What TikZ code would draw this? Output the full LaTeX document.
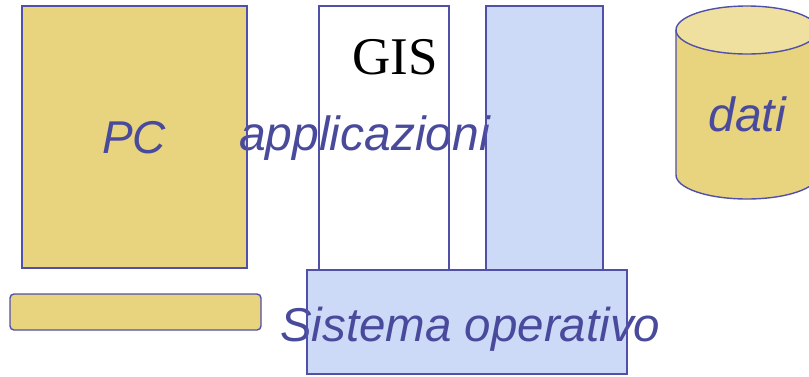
\documentclass[tikz,border=0pt]{standalone}
\usepackage{fontspec}
\setmainfont{Liberation Serif}
\setsansfont{Liberation Sans}
\definecolor{gold}{HTML}{E8D47E}
\definecolor{goldtop}{HTML}{F0E0A0}
\definecolor{lblue}{HTML}{CCD9F7}
\definecolor{edge}{HTML}{5050A8}
\definecolor{txt}{HTML}{4A4A9C}
\tikzset{
  box/.style={draw=edge, line width=1.4pt, anchor=north west, inner sep=0pt, outer sep=0pt},
  lbl/.style={font=\sffamily\itshape\fontsize{46}{50}\selectfont, text=txt, inner sep=0pt},
  rim/.style={draw=edge, line width=1.4pt},
}
\begin{document}
\begin{tikzpicture}[x=1pt,y=-1pt]
\useasboundingbox (0,0) rectangle (809,376);
% PC
\node[box, fill=gold, minimum width=225pt, minimum height=262pt] (pc) at (22,6) {};
\node[box, fill=gold, rounded corners=4pt, minimum width=251pt, minimum height=36pt] (kb) at (10,294) {};
% GIS and applications
\node[box, fill=white, minimum width=130pt, minimum height=264pt] (gis) at (319,6) {};
\node[box, fill=lblue, minimum width=117pt, minimum height=264pt] (app) at (486,6) {};
% OS
\node[box, fill=lblue, minimum width=320pt, minimum height=104pt] (os) at (307,270) {};
% cylinder
\begin{scope}
\clip (0,0) rectangle (809,376);
\fill[gold] (676,30) -- (676,175) arc[start angle=180, end angle=0, x radius=71, y radius=24] -- (818,30) -- cycle;
\draw[rim] (676,30) -- (676,175) arc[start angle=180, end angle=0, x radius=71, y radius=24] -- (818,30);
\draw[rim, fill=goldtop] (747,30) ellipse[x radius=71, y radius=24];
\end{scope}
% texts
\node[lbl, anchor=base] (pct) at (134,153) {PC};
\node[lbl, font=\sffamily\itshape\fontsize{48}{52}\selectfont, anchor=base west] (appt) at (239,150) {applicazioni};
\node[lbl, font=\sffamily\itshape\fontsize{47.5}{52}\selectfont, anchor=base west] (ost) at (280,341) {Sistema operativo};
\node[lbl, font=\sffamily\itshape\fontsize{48}{52}\selectfont, anchor=base] (dt) at (747,131) {dati};
\node[font=\fontsize{53}{56}\selectfont, inner sep=0pt, anchor=base] (gist) at (395,74) {GIS};
% box borders drawn over the texts, as in the reference
\draw[rim] (pc.north west) rectangle (pc.south east);
\draw[rim] (gis.north west) rectangle (gis.south east);
\draw[rim] (app.north west) rectangle (app.south east);
\draw[rim] (os.north west) rectangle (os.south east);
\end{tikzpicture}
\end{document}
